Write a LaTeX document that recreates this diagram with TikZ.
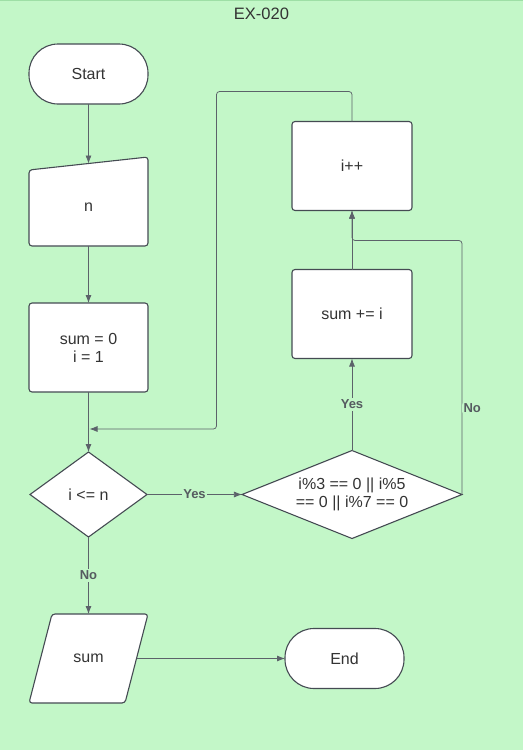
\documentclass[tikz,border=0pt]{standalone}
\usepackage{fontspec}
\setmainfont{Liberation Sans}
\usepackage{xcolor}
\usetikzlibrary{arrows.meta,positioning,shapes.geometric,calc}

\definecolor{bggreen}{HTML}{C3F7C8}
\definecolor{bgedge}{HTML}{9EDFA6}
\definecolor{shapeline}{HTML}{454B53}
\definecolor{linkline}{HTML}{5C626A}
\definecolor{txt}{HTML}{333333}
\definecolor{lbltxt}{HTML}{555B60}

\pgfdeclarelayer{bglayer}
\pgfdeclarelayer{shapelayer}
\pgfsetlayers{bglayer,shapelayer,main}

\begin{document}
\begin{tikzpicture}[
        x=1pt, y=-1pt,
        font=\fontsize{16}{18}\selectfont, text=txt,
        node distance=60pt and 95pt,
        every node/.style={outer sep=0pt},
        terminal/.style={draw=shapeline, line width=1.1pt, fill=white, rounded corners=29pt, minimum width=119pt, minimum height=60pt},
        process/.style={draw=shapeline, line width=1.1pt, fill=white, rounded corners=3pt, align=center, minimum width=120pt, minimum height=89pt},
        iobox/.style={minimum width=119pt, inner sep=0pt},
        ioshape/.style={draw=shapeline, line width=1.1pt, fill=white, rounded corners=3pt},
        decision/.style={draw=shapeline, line width=1.1pt, fill=white, diamond, aspect=2.5, inner sep=0pt, align=center},
        line/.style={draw=linkline, line width=0.75pt, -{Latex[length=8pt,width=6pt]}},
        lbl/.style={font=\fontsize{13}{15}\selectfont\bfseries, text=lbltxt, fill=bggreen, inner sep=1.5pt}
    ]
        % page background and title
        \begin{pgfonlayer}{bglayer}
            \fill[bggreen] (0,0) rectangle (522,750);
            \draw[bgedge, line width=1pt] (0,0.5) -- (522,0.5);
        \end{pgfonlayer}
        \node[font=\fontsize{16.5}{18}\selectfont] (title) at (261,14) {EX-020};

        \node[terminal] (start) at (88,74) {Start};
        \node[iobox, minimum height=78pt, below=64pt of start] (n) {n};
        \node[process, minimum width=119pt, below=57pt of n] (init) {sum = 0\\i = 1};
        \node[decision, minimum width=117pt, minimum height=85pt, below=of init] (cond) {i <= n};
        \node[decision, minimum width=220pt, minimum height=88pt, right=of cond] (check) {i\%3 == 0 || i\%5\\== 0 || i\%7 == 0};
        \node[process, above=92pt of check] (add) {sum += i};
        \node[process, above=59pt of add] (inc) {i++};
        \node[iobox, minimum height=89pt, below=77pt of cond] (out) {sum};
        \node[terminal, right=137pt of out] (end) {End};

        % manual input and output shapes
        \begin{pgfonlayer}{shapelayer}
            \draw[ioshape] (n.south west) -- ($(n.north west)+(0,2)$) -- ($(n.north east)+(0,-11)$) -- (n.south east) -- cycle;
            \draw[ioshape] (out.south west) -- ($(out.north west)+(23,0)$) -- (out.north east) -- ($(out.south east)+(-23,0)$) -- cycle;
        \end{pgfonlayer}
        \coordinate (ntop) at ($(n.north)+(0,-4.5)$);
        \coordinate (outr) at ($(out.east)+(-11.5,0)$);
        \coordinate (merge) at ($(cond.north)+(0,-23)$);

        \draw[line] (start) -- (ntop);
        \draw[line] (n) -- (init);
        \draw[line] (init) -- (cond);
        \draw[line] (cond) -- node[lbl] {Yes} (check);
        \draw[line] (check) -- node[lbl] {Yes} (add);
        \draw[line] (add) -- (inc);
        \draw[line, rounded corners=3pt] (check.east) -- node[lbl, right, pos=0.34] {No} ++(0,-254) -| (inc.south);
        \draw[line, rounded corners=3pt, shorten >=1pt] (inc.north) -- ++(0,-30) -| ($(merge)+(128,0)$) -- (merge);
        \draw[line] (cond) -- node[lbl] {No} (out);
        \draw[line] (outr) -- (end);
    \end{tikzpicture}
\end{document}
